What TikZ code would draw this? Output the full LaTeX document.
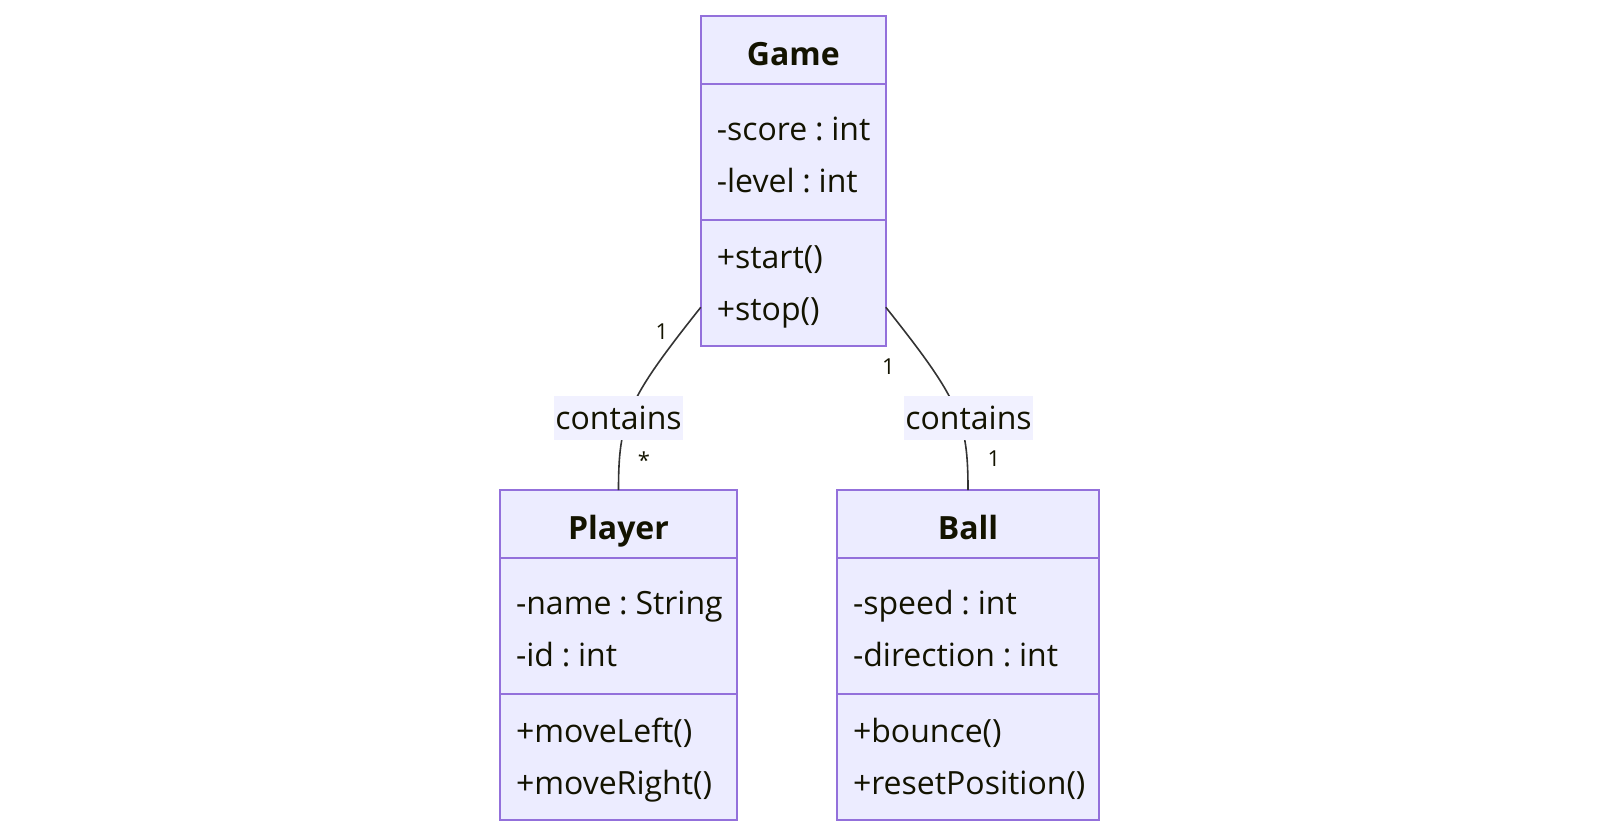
\documentclass[tikz,border=0pt]{standalone}
\usepackage{fontspec}
\setmainfont{Open Sans}
\usetikzlibrary{positioning}
\frenchspacing
\exhyphenpenalty=10000

\definecolor{umlfill}{HTML}{ECECFF}
\definecolor{umlline}{HTML}{9370DB}
\definecolor{umltext}{HTML}{131300}
\definecolor{edgeline}{HTML}{333333}

\begin{document}
\begin{tikzpicture}[
  x=1pt, y=-1pt,
  every node/.style={text=umltext},
  classhead/.style={draw=umlline, fill=umlfill, line width=2pt, outer sep=0pt,
                    minimum height=68pt, text height=30pt, text depth=0pt,
                    inner ysep=0pt, font=\fontsize{32}{52}\selectfont\bfseries},
  member/.style={draw=umlline, fill=umlfill, line width=2pt, outer sep=0pt,
                 align=left, inner xsep=16pt, inner ysep=0pt,
                 font=\fontsize{32}{52}\selectfont,
                 execute at begin node={\spaceskip=7.8pt\relax}},
  attrpart/.style={member, minimum height=136pt, text height=24pt, text depth=48pt},
  oppart/.style={member, minimum height=125.5pt, text height=24pt, text depth=53.5pt},
  assoc/.style={draw=edgeline, line width=1.6pt},
  edgelabel/.style={fill=umlfill!75!white, inner xsep=1pt, inner ysep=0pt,
                    minimum height=44pt, font=\fontsize{32}{40}\selectfont},
  mult/.style={anchor=base, inner sep=0pt, font=\fontsize{22}{26}\selectfont},
]
\useasboundingbox (0,0) rectangle (1600,836);

% Game
\node[classhead, minimum width=185pt] (game) at (793.3,50) {Game};
\node[attrpart, text width=153pt, below=0pt of game] (game-attr)
  {\mbox{-score : int}\\\mbox{-level : int}};
\node[oppart, text width=153pt, below=0pt of game-attr] (game-ops)
  {+start()\\+stop()};

% Player
\node[classhead, minimum width=237pt] (player) at (618.5,524) {Player};
\node[attrpart, text width=205pt, below=0pt of player] (player-attr)
  {\mbox{-name : String}\\\mbox{-id : int}};
\node[oppart, text width=205pt, below=0pt of player-attr] (player-ops)
  {+moveLeft()\\+moveRight()};

% Ball
\node[classhead, minimum width=262pt] (ball) at (968,524) {Ball};
\node[attrpart, text width=230pt, below=0pt of ball] (ball-attr)
  {\mbox{-speed : int}\\\mbox{-direction : int}};
\node[oppart, text width=230pt, below=0pt of ball-attr] (ball-ops)
  {+bounce()\\+resetPosition()};

% associations
\draw[assoc] ([yshift=-24.5pt]game-ops.west)
  to[out=231.5, in=90, out distance=119pt, in distance=70pt] (player.north);
\draw[assoc] ([yshift=-24.5pt]game-ops.east)
  to[out=308.5, in=90, out distance=119pt, in distance=70pt] (ball.north);

\node[edgelabel] (contains-player) at (618.5,418) {contains};
\node[edgelabel] (contains-ball) at (968.5,418) {contains};

% multiplicities
\node[mult] (mult-game-p) at (662,339.5) {1};
\node[mult] (mult-player) at (644,468) {*};
\node[mult] (mult-game-b) at (888.3,374) {1};
\node[mult] (mult-ball) at (994,466.7) {1};
\end{tikzpicture}
\end{document}
